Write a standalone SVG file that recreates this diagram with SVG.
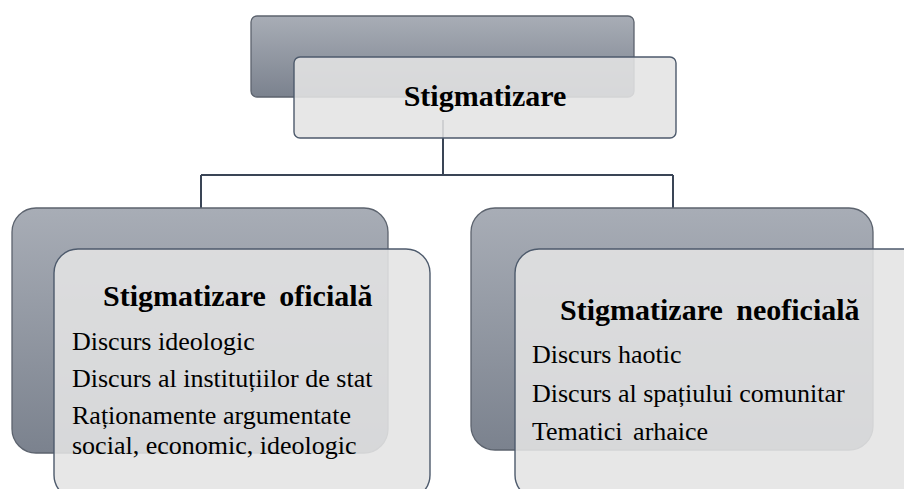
<svg xmlns="http://www.w3.org/2000/svg" width="904" height="489" viewBox="0 0 904 489">
<defs>
<linearGradient id="gBack" x1="0" y1="0" x2="0" y2="1">
<stop offset="0" stop-color="#a8adb6"/>
<stop offset="1" stop-color="#7b828e"/>
</linearGradient>
<style>
.back{fill:url(#gBack);stroke:#5c636e;stroke-width:1.3}
.front{fill:#e4e4e4;fill-opacity:0.88;stroke:#4d5a6c;stroke-width:1.4}
.conn{fill:none;stroke:#3a4556;stroke-width:2}
.title{font-weight:bold}
.body{font-size:26px}
</style>
</defs>
<rect width="904" height="489" fill="#fff"/>
<g id="connectors">
<path class="conn" d="M443 120 V175 M201 175 H673 M201 175 V209 M673 175 V209"/>
</g>
<g font-family="Liberation Serif, Times New Roman, serif" fill="#000">
<g id="root">
<rect class="back" x="251" y="16" width="383" height="81" rx="6"/>
<rect class="front" x="294" y="57" width="382" height="81" rx="6"/>
<text class="title" x="485" y="106" font-size="30" text-anchor="middle">Stigmatizare</text>
</g>
<g id="oficiala">
<rect class="back" x="12" y="208" width="376" height="245" rx="24"/>
<rect class="front" x="54" y="249" width="376" height="250" rx="24"/>
<text class="title" x="103" y="306" font-size="30">Stigmatizare <tspan dx="6">oficială</tspan></text>
<text class="body" x="72" y="350">Discurs ideologic</text>
<text class="body" x="72" y="387">Discurs al instituțiilor de stat</text>
<text class="body" x="72" y="424">Raționamente argumentate</text>
<text class="body" x="72" y="454">social, economic, ideologic</text>
</g>
<g id="neoficiala">
<rect class="back" x="471" y="208" width="402" height="242" rx="24"/>
<rect class="front" x="515" y="249" width="420" height="250" rx="24"/>
<text class="title" x="560" y="320" font-size="30">Stigmatizare <tspan dx="6">neoficială</tspan></text>
<text class="body" x="532" y="363">Discurs haotic</text>
<text class="body" x="532" y="402">Discurs al spațiului comunitar</text>
<text class="body" x="532" y="440">Tematici <tspan dx="4">arhaice</tspan></text>
</g>
</g>
</svg>
